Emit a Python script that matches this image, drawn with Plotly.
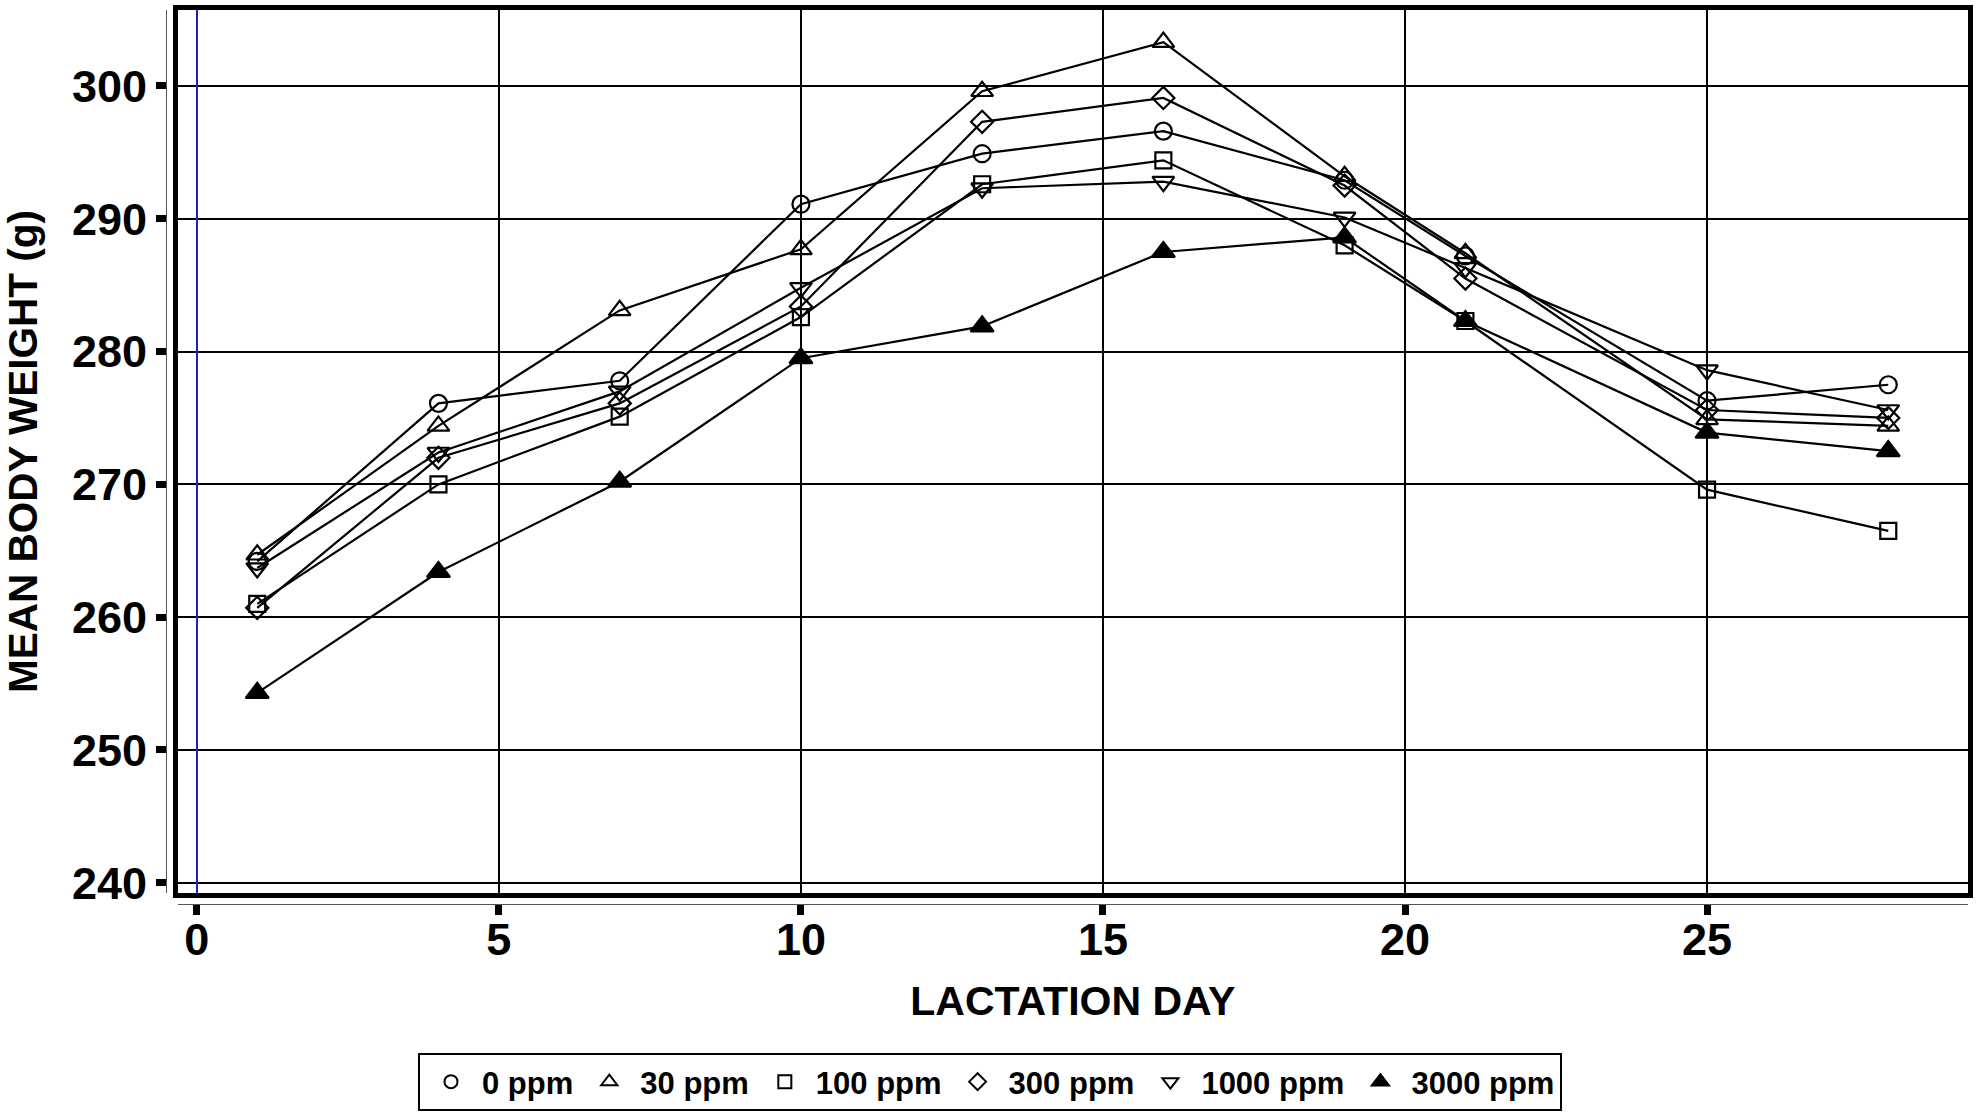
import plotly.graph_objects as go

days = [1, 4, 7, 10, 13, 16, 19, 21, 25, 28]
ppm0 = [264.2, 276.1, 277.8, 291.1, 294.9, 296.6, 292.9, 287.2, 276.3, 277.5]
ppm30 = [264.7, 274.4, 283.1, 287.7, 299.6, 303.3, 293.2, 287.4, 274.9, 274.4]
ppm100 = [261.0, 270.0, 275.1, 282.6, 292.6, 294.4, 288.0, 282.3, 269.6, 266.5]
ppm300 = [260.7, 272.0, 276.1, 283.4, 297.3, 299.1, 292.5, 285.5, 275.6, 275.0]
ppm1000 = [263.7, 272.4, 277.0, 284.8, 292.3, 292.8, 290.1, 286.3, 278.6, 275.6]
ppm3000 = [254.3, 263.4, 270.2, 279.5, 281.9, 287.5, 288.6, 282.3, 273.9, 272.5]

series_names = ["0 ppm", "30 ppm", "100 ppm", "300 ppm", "1000 ppm", "3000 ppm"]
series_values = [ppm0, ppm30, ppm100, ppm300, ppm1000, ppm3000]
symbols = ["circle-open", "triangle-up-open", "square-open", "diamond-open",
           "triangle-down-open", "triangle-up"]
sizes = [17, 19, 16, 17, 19, 20]
legend_sizes = [13, 14, 13, 13, 14, 15]

x_ticks = [0, 5, 10, 15, 20, 25]
y_ticks = [240, 250, 260, 270, 280, 290, 300]

X_RANGE = [-0.32, 29.32]
Y_RANGE = [239.23, 305.72]

FONT = "Liberation Sans, Arial, Helvetica, sans-serif"

fig = go.Figure()

for name, vals, sym, sz in zip(series_names, series_values, symbols, sizes):
    fig.add_trace(go.Scatter(
        x=days, y=vals, mode="lines+markers", name=name, showlegend=False,
        line=dict(color="black", width=2.2),
        marker=dict(symbol=sym, size=sz, color="black", line=dict(color="black", width=2.2)),
        cliponaxis=False,
    ))

# legend-only entries (markers without line, as in the reference)
for name, sym, sz in zip(series_names, symbols, legend_sizes):
    fig.add_trace(go.Scatter(
        x=[None], y=[None], mode="markers", name=name, showlegend=True,
        marker=dict(symbol=sym, size=sz, color="black", line=dict(color="black", width=2)),
    ))

# dummy trace to activate the outer (offset) axes
fig.add_trace(go.Scatter(x=[None], y=[None], xaxis="x2", yaxis="y2",
                         showlegend=False, hoverinfo="skip"))

W, H = 1980, 1115
ml, mr, mt, mb = 166, 12, 10, 211
pw = W - ml - mr
ph = H - mt - mb

fig.update_layout(
    width=W, height=H,
    margin=dict(l=ml, r=mr, t=mt, b=mb, pad=0, autoexpand=False),
    paper_bgcolor="white", plot_bgcolor="white",
    font=dict(family=FONT, color="black"),
    xaxis=dict(
        domain=[(177.5 - ml) / pw, 1], range=X_RANGE, anchor="y",
        tickvals=x_ticks, showticklabels=False, ticks="",
        showgrid=True, gridcolor="black", gridwidth=2,
        zeroline=True, zerolinecolor="#2020c0", zerolinewidth=1.6,
        showline=True, linecolor="black", linewidth=5, mirror=True,
    ),
    yaxis=dict(
        domain=[(904 - 893) / ph, 1], range=Y_RANGE, anchor="x",
        tickvals=y_ticks, showticklabels=False, ticks="",
        showgrid=True, gridcolor="black", gridwidth=2, zeroline=False,
        showline=True, linecolor="black", linewidth=5, mirror=True,
    ),
    xaxis2=dict(
        overlaying="x", anchor="free", position=0, side="bottom", range=X_RANGE,
        tickvals=x_ticks, ticks="outside", ticklen=10, tickwidth=7, tickcolor="black",
        tickfont=dict(family=FONT, size=45, color="black", weight="bold"),
        ticklabelstandoff=-14,
        showgrid=False, zeroline=False,
        showline=True, linecolor="#555555", linewidth=1,
        title=dict(text="LACTATION DAY", standoff=22,
                   font=dict(family=FONT, size=41, color="black", weight="bold")),
    ),
    yaxis2=dict(
        overlaying="y", anchor="free", position=0, side="left", range=Y_RANGE,
        tickvals=y_ticks, ticks="outside", ticklen=10, tickwidth=7, tickcolor="black",
        tickfont=dict(family=FONT, size=45, color="black", weight="bold"),
        showgrid=False, zeroline=False,
        showline=True, linecolor="#555555", linewidth=1,
        title=dict(text="MEAN BODY WEIGHT (g)", standoff=30,
                   font=dict(family=FONT, size=40.5, color="black", weight="bold")),
    ),
    legend=dict(
        orientation="h", x=(418 - ml) / pw, xanchor="left",
        y=(904 - 1053) / ph, yanchor="top",
        bgcolor="white", bordercolor="black", borderwidth=2,
        font=dict(family=FONT, size=31, color="black", weight="bold"),
        itemsizing="trace", itemwidth=52,
    ),
)

fig.write_html("out.html", post_script="document.body.style.margin='0px';",
               config={"displayModeBar": False})
